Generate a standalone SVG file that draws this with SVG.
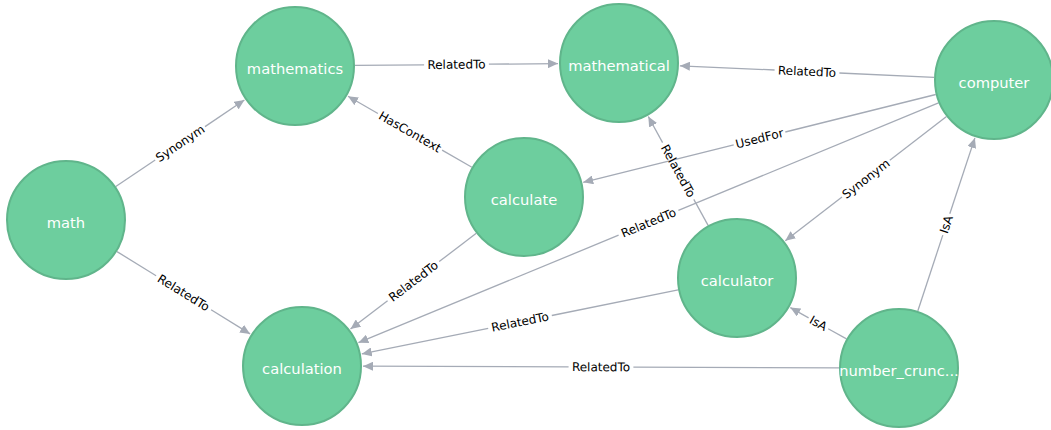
<svg xmlns="http://www.w3.org/2000/svg" width="1051" height="430" viewBox="0 0 1051 430">
<style>
.node circle{fill:#6dce9e;stroke:#60b58b;stroke-width:2}
.node text{fill:#ffffff;font-family:"DejaVu Sans",sans-serif;font-size:14.7px;text-anchor:middle}
.edges line{stroke:#a5abb6;stroke-width:1.3}
.edges line.h{marker-end:url(#arr)}
.edges text{fill:#000;font-family:"DejaVu Sans",sans-serif;font-size:12px;text-anchor:middle}
</style>
<defs>
<marker id="arr" markerUnits="userSpaceOnUse" markerWidth="10" markerHeight="9" refX="10" refY="4.5" orient="auto">
<path d="M0,0 L10,4.5 L0,9 z" fill="#a5abb6"/>
</marker>
</defs>
<rect width="1051" height="430" fill="#ffffff"/>
<g id="connectors" class="edges">
<g id="e1"><line x1="115.8" y1="186.5" x2="155.2" y2="160.0"/><line class="h" x1="205.0" y1="126.6" x2="244.4" y2="100.0"/><text transform="translate(180.1,143.3) rotate(-33.9)" dy="0.35em">Synonym</text></g>
<g id="e2"><line x1="117.0" y1="251.6" x2="156.1" y2="275.7"/><line class="h" x1="211.1" y1="309.7" x2="250.1" y2="333.9"/><text transform="translate(183.6,292.7) rotate(31.7)" dy="0.35em">RelatedTo</text></g>
<g id="e3"><line x1="355" y1="65.4" x2="424.1" y2="64.8"/><line class="h" x1="488.9" y1="64.2" x2="558" y2="63.6"/><text transform="translate(456.5,64.5) rotate(-0.53)" dy="0.35em">RelatedTo</text></g>
<g id="e4"><line x1="471.9" y1="167.2" x2="442.1" y2="150.1"/><line class="h" x1="377.9" y1="113.5" x2="348" y2="96.3"/><text transform="translate(410,131.8) rotate(29.8)" dy="0.35em">HasContext</text></g>
<g id="e5"><line x1="934.1" y1="77.3" x2="839.4" y2="73.0"/><line class="h" x1="774.6" y1="70.0" x2="679.9" y2="65.8"/><text transform="translate(807,71.5) rotate(2.6)" dy="0.35em">RelatedTo</text></g>
<g id="e6"><line x1="935.8" y1="94.5" x2="785.3" y2="132.0"/><line class="h" x1="733.7" y1="144.8" x2="583.2" y2="182.3"/><text transform="translate(759.5,138.4) rotate(-14)" dy="0.35em">UsedFor</text></g>
<g id="e7"><line x1="938.5" y1="102.9" x2="678.4" y2="210.4"/><line class="h" x1="618.6" y1="235.2" x2="358.4" y2="342.7"/><text transform="translate(648.5,222.8) rotate(-22.5)" dy="0.35em">RelatedTo</text></g>
<g id="e8"><line x1="946.5" y1="116.6" x2="889.8" y2="160.3"/><line class="h" x1="842.0" y1="197.1" x2="785.3" y2="240.8"/><text transform="translate(865.9,178.7) rotate(-37.6)" dy="0.35em">Synonym</text></g>
<g id="e9"><line x1="708.1" y1="225.4" x2="693.8" y2="199.4"/><line class="h" x1="662.6" y1="142.6" x2="648.3" y2="116.5"/><text transform="translate(678.2,171.0) rotate(61.2)" dy="0.35em">RelatedTo</text></g>
<g id="e10"><line x1="476.3" y1="233.3" x2="439.2" y2="261.6"/><line class="h" x1="387.6" y1="300.8" x2="350.5" y2="329.1"/><text transform="translate(413.4,281.2) rotate(-37.3)" dy="0.35em">RelatedTo</text></g>
<g id="e11"><line x1="678.2" y1="289.9" x2="551.8" y2="315.5"/><line class="h" x1="488.2" y1="328.3" x2="361.8" y2="353.9"/><text transform="translate(520,321.9) rotate(-11.4)" dy="0.35em">RelatedTo</text></g>
<g id="e12"><line x1="846.5" y1="338.9" x2="828.2" y2="328.7"/><line class="h" x1="808.6" y1="317.9" x2="790.3" y2="307.6"/><text transform="translate(818.4,323.3) rotate(29.1)" dy="0.35em">IsA</text></g>
<g id="e13"><line x1="917.8" y1="311.0" x2="942.8" y2="235.1"/><line class="h" x1="949.8" y1="213.7" x2="974.9" y2="137.9"/><text transform="translate(946.3,224.4) rotate(-71.7)" dy="0.35em">IsA</text></g>
<g id="e14"><line x1="839" y1="367.8" x2="633.4" y2="367.1"/><line class="h" x1="568.6" y1="366.9" x2="363" y2="366.2"/><text transform="translate(601,367) rotate(0.19)" dy="0.35em">RelatedTo</text></g>
</g>
<g id="n-math" class="node"><circle cx="66" cy="220" r="59"/><text x="66" y="227.5">math</text></g>
<g id="n-mathematics" class="node"><circle cx="295" cy="66" r="59"/><text x="295" y="73.5">mathematics</text></g>
<g id="n-mathematical" class="node"><circle cx="619" cy="63" r="59"/><text x="619" y="70.5">mathematical</text></g>
<g id="n-computer" class="node"><circle cx="994" cy="80" r="59"/><text x="994" y="87.5">computer</text></g>
<g id="n-calculate" class="node"><circle cx="524" cy="197" r="59"/><text x="524" y="204.5">calculate</text></g>
<g id="n-calculator" class="node"><circle cx="737" cy="278" r="59"/><text x="737" y="285.5">calculator</text></g>
<g id="n-calculation" class="node"><circle cx="302" cy="366" r="59"/><text x="302" y="373.5">calculation</text></g>
<g id="n-number_cruncher" class="node"><circle cx="899" cy="368" r="59"/><text x="899" y="375.5">number_crunc...</text></g>
</svg>
